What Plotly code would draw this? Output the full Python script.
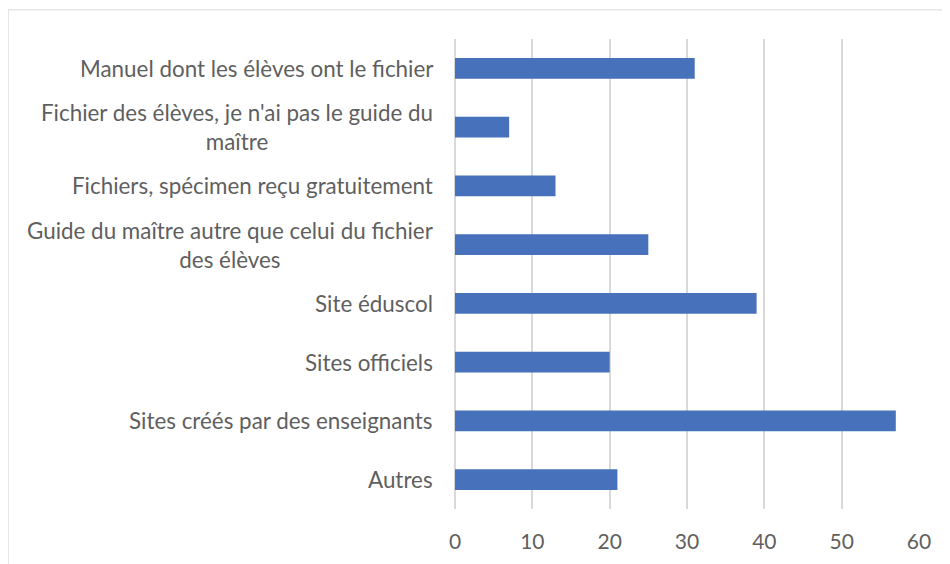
import plotly.graph_objects as go

categories = [
    "Manuel dont les élèves ont le fichier",
    "Fichier des élèves, je n'ai pas le guide du<br>maître",
    "Fichiers, spécimen reçu gratuitement",
    "Guide du maître autre que celui du fichier<br>des élèves",
    "Site éduscol",
    "Sites officiels",
    "Sites créés par des enseignants",
    "Autres",
]
values = [31, 7, 13, 25, 39, 20, 57, 21]
x_ticks = [0, 10, 20, 30, 40, 50, 60]

FONT = "Lato"
GRAY = "#5f5f5f"

fig = go.Figure(
    go.Bar(
        x=values,
        y=list(range(len(categories))),
        orientation="h",
        marker=dict(color="#4871BB", line=dict(width=0)),
        hoverinfo="skip",
    )
)

annotations = []
for i, lab in enumerate(categories):
    annotations.append(
        dict(
            x=0, xref="paper", y=i, yref="y",
            text=lab, showarrow=False,
            xanchor="right", yanchor="middle", align="center",
            xshift=-20,
            font=dict(family=FONT, size=22.4, color=GRAY),
        )
    )

fig.update_layout(
    width=950, height=564,
    margin=dict(l=447, r=39, t=31, b=63),
    paper_bgcolor="white", plot_bgcolor="white",
    bargap=0.643,
    showlegend=False,
    annotations=annotations,
    shapes=[dict(
        type="rect", xref="paper", yref="paper",
        x0=-0.963, x1=1.2, y0=-0.3, y1=1.062,
        line=dict(color="#D9D9D9", width=1), layer="below",
    )],
    xaxis=dict(
        range=[0, 60], tickvals=x_ticks, ticktext=[str(t) for t in x_ticks],
        showgrid=True, gridcolor="#D9D9D9", gridwidth=1.5,
        zeroline=True, zerolinecolor="#D9D9D9", zerolinewidth=1.5,
        showline=False, ticks="", ticklabelstandoff=18,
        tickfont=dict(family=FONT, size=21, color=GRAY),
        fixedrange=True,
    ),
    yaxis=dict(
        range=[len(categories) - 0.5, -0.5],
        showticklabels=False, showgrid=False, zeroline=False,
        showline=False, ticks="", fixedrange=True,
    ),
)

fig.write_html("out.html")
